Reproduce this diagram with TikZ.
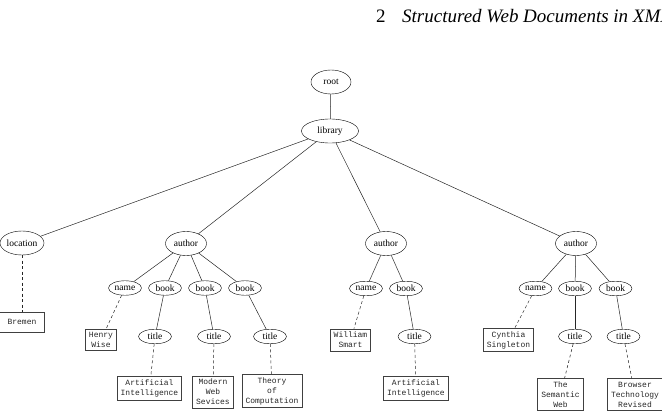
\documentclass[tikz,border=0pt]{standalone}
\usepackage{fontspec}
\setmainfont{Liberation Serif}
\setmonofont{Liberation Mono}
\usetikzlibrary{shapes.geometric}
\begin{document}
\begin{tikzpicture}[x=1pt,y=-1pt,
  el/.style={draw, ellipse, inner sep=0pt, minimum height=24pt, minimum width=#1, font=\fontsize{9.5}{10}\selectfont},
  el/.default=40pt,
  sel/.style={draw, ellipse, inner sep=0pt, minimum height=14.5pt, minimum width=33pt, font=\fontsize{9.5}{10}\selectfont},
  leaf/.style={draw=black!75, rectangle, inner xsep=3.5pt, inner ysep=3pt, align=center, line width=0.7pt, text=black!85, font=\ttfamily\fontsize{8}{10}\selectfont},
  edge/.style={draw=black!85, line width=0.5pt},
  dedge/.style={draw=black!85, dash pattern=on 3pt off 2.5pt, line width=0.5pt}]
\useasboundingbox (0,0) rectangle (662,420);
\node[anchor=base west, inner sep=0pt, font=\fontsize{19}{21}\selectfont] (hdr) at (376,23) {2\hspace{16.5pt}\textit{Structured Web Documents in XML}};
% top-level ellipses
\node[el=40pt] (root) at (331,82) {root};
\node[el=57pt] (lib) at (330,131) {library};
\node[el=44pt] (loc) at (22,243) {location};
\node[el=41pt] (a1) at (186,243.5) {author};
\node[el=41pt] (a2) at (386,243.5) {author};
\node[el=41pt] (a3) at (576,243.5) {author};
% second level
\node[sel] (n1) at (125,288) {name};
\node[sel] (b11) at (165,288) {book};
\node[sel] (b12) at (205,288) {book};
\node[sel] (b13) at (245,288) {book};
\node[sel] (n2) at (366,288.5) {name};
\node[sel] (b21) at (406,288.5) {book};
\node[sel] (n3) at (535.5,288.5) {name};
\node[sel] (b31) at (575,288.5) {book};
\node[sel] (b32) at (615.5,288.5) {book};
% titles
\node[sel] (t11) at (155,336.5) {title};
\node[sel] (t12) at (214,336.5) {title};
\node[sel] (t13) at (270,336.5) {title};
\node[sel] (t21) at (414.5,336.5) {title};
\node[sel] (t31) at (575,336.5) {title};
\node[sel] (t32) at (623.5,336.5) {title};
% leaves
\node[leaf, minimum width=45pt, minimum height=20pt] (bremen) at (22,322) {Bremen};
\node[leaf] (henry) at (101,340) {Henry\\Wise};
\node[leaf] (william) at (350.5,340) {William\\Smart};
\node[leaf] (cynthia) at (508.5,340) {Cynthia\\Singleton};
\node[leaf] (ai1) at (149.5,388.5) {Artificial\\Intelligence};
\node[leaf] (mws) at (213,392) {Modern\\Web\\Sevices};
\node[leaf] (toc) at (272,391) {Theory\\of\\Computation};
\node[leaf] (ai2) at (416,388.5) {Artificial\\Intelligence};
\node[leaf] (sw) at (560.5,394.5) {The\\Semantic\\Web};
\node[leaf] (btr) at (635,394.5) {Browser\\Technology\\Revised};
% solid edges
\path[edge] (root) -- (lib);
\path[edge] (lib) -- (loc);
\path[edge] (lib) -- (a1);
\path[edge] (lib) -- (a2);
\path[edge] (lib) -- (a3);
\path[edge] (a1) -- (n1);
\path[edge] (a1) -- (b11);
\path[edge] (a1) -- (b12);
\path[edge] (a1) -- (b13);
\path[edge] (a2) -- (n2);
\path[edge] (a2) -- (b21);
\path[edge] (a3) -- (n3);
\path[edge] (a3) -- (b31);
\path[edge] (a3) -- (b32);
\path[edge] (b11) -- (t11);
\path[edge] (b12) -- (t12);
\path[edge] (b13) -- (t13);
\path[edge] (b21) -- (t21);
\path[edge] (b31) -- (t31);
\path[edge] (b32) -- (t32);
% dashed edges
\path[dedge] (loc) -- (bremen);
\path[dedge] (n1) -- (henry);
\path[dedge] (n2) -- (william);
\path[dedge] (n3) -- (cynthia);
\path[dedge] (t11) -- (ai1);
\path[dedge] (t12) -- (mws);
\path[dedge] (t13) -- (toc);
\path[dedge] (t21) -- (ai2);
\path[dedge] (t31) -- (sw);
\path[dedge] (t32) -- (btr);
\end{tikzpicture}
\end{document}
